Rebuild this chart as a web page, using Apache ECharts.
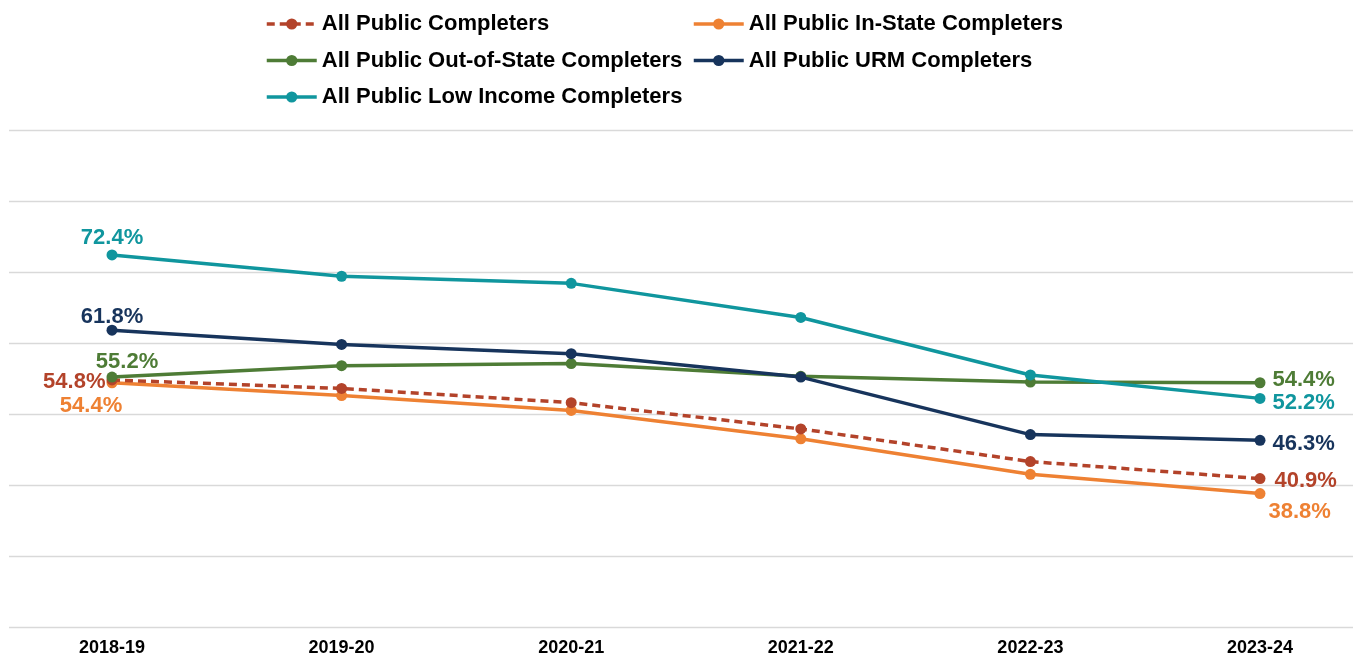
<!DOCTYPE html>
<html>
<head>
<meta charset="utf-8">
<script src="https://cdn.jsdelivr.net/npm/echarts@6/dist/echarts.min.js"></script>
<style>
html,body{margin:0;padding:0;background:#fff;}
#chart{width:1353px;height:659px;}
</style>
</head>
<body>
<div id="chart"></div>
<script>
const categories = ['2018-19', '2019-20', '2020-21', '2021-22', '2022-23', '2023-24'];
const seriesNames = [
  'All Public Completers',
  'All Public In-State Completers',
  'All Public Out-of-State Completers',
  'All Public URM Completers',
  'All Public Low Income Completers'
];
const allPublic = [54.8, 53.6, 51.6, 47.9, 43.3, 40.9];
const inState = [54.4, 52.6, 50.5, 46.5, 41.5, 38.8];
const outState = [55.2, 56.8, 57.1, 55.3, 54.5, 54.4];
const urm = [61.8, 59.8, 58.5, 55.2, 47.1, 46.3];
const lowIncome = [72.4, 69.4, 68.4, 63.6, 55.5, 52.2];
const yMin = 20, yMax = 90, yStep = 10;

const colors = ['#B3432A', '#EE8133', '#4E7C36', '#17345C', '#10969E'];
const FONT = 'Arial, "Liberation Sans", sans-serif';

// label placement styles for first / last points
const firstLabel = [
  {position: 'left', distance: 1, offset: [0, 2]},
  {position: 'bottom', distance: 7, offset: [-21, 0]},
  {position: 'top', distance: -1, offset: [15, 0]},
  {position: 'top', distance: -3, offset: [0, 0]},
  {position: 'top', distance: 1, offset: [0, 0]}
];
const lastLabel = [
  {position: 'right', distance: 9, offset: [0, 2]},
  {position: 'right', distance: 3, offset: [0, 18]},
  {position: 'right', distance: 7, offset: [0, -3]},
  {position: 'right', distance: 7, offset: [0, 4]},
  {position: 'right', distance: 7, offset: [0, 5]}
];

function buildData(values, idx) {
  return values.map((v, i) => {
    const item = {value: v};
    let cfg = null;
    if (i === 0) cfg = firstLabel[idx];
    if (i === values.length - 1) cfg = lastLabel[idx];
    if (cfg) {
      item.label = Object.assign({show: true}, cfg);
    }
    return item;
  });
}

const valueSets = [allPublic, inState, outState, urm, lowIncome];
const zOrder = [3, 2, 4, 5, 6];

const series = valueSets.map((vals, idx) => ({
  name: seriesNames[idx],
  type: 'line',
  xAxisIndex: 1,
  yAxisIndex: 1,
  data: buildData(vals, idx),
  symbol: 'circle',
  symbolSize: 11,
  z: zOrder[idx],
  lineStyle: {width: 3.5, color: colors[idx], type: idx === 0 ? [8, 5] : 'solid'},
  itemStyle: {color: colors[idx]},
  label: {
    show: false,
    formatter: (p) => Number(p.value).toFixed(1) + '%',
    color: colors[idx],
    fontSize: 22,
    fontWeight: 'bold',
    fontFamily: FONT
  },
  emphasis: {disabled: true},
  animation: false
}));

const legendText = {fontSize: 22, fontWeight: 'bold', color: '#000', fontFamily: FONT};
const legendCommon = {
  orient: 'vertical',
  top: 13,
  padding: 0,
  itemWidth: 50, itemHeight: 14, itemGap: 14.5,
  textStyle: legendText,
  lineStyle: {width: 3.5},
  selectedMode: false
};

const chart = echarts.init(document.getElementById('chart'), null, {renderer: 'canvas'});
chart.setOption({
  backgroundColor: '#fff',
  animation: false,
  legend: [
    Object.assign({data: [seriesNames[0], seriesNames[2], seriesNames[4]], left: 265}, legendCommon),
    Object.assign({data: [seriesNames[1], seriesNames[3]], left: 692}, legendCommon)
  ],
  grid: [
    {left: 9, right: 0, top: 130, bottom: 32, containLabel: false},
    {left: 112, right: 93, top: 130, bottom: 32, containLabel: false}
  ],
  xAxis: [
    {type: 'category', gridIndex: 0, data: categories, show: false},
    {
      type: 'category', gridIndex: 1, data: categories, boundaryGap: false,
      axisLine: {show: false}, axisTick: {show: false},
      axisLabel: {fontSize: 18, fontWeight: 'bold', color: '#000', fontFamily: FONT, margin: 12},
      splitLine: {show: false}
    }
  ],
  yAxis: [
    {
      type: 'value', gridIndex: 0, min: yMin, max: yMax, interval: yStep,
      axisLabel: {show: false}, axisLine: {show: false}, axisTick: {show: false},
      splitLine: {show: true, lineStyle: {color: '#D9D9D9', width: 1.3}}
    },
    {
      type: 'value', gridIndex: 1, min: yMin, max: yMax, interval: yStep,
      axisLabel: {show: false}, axisLine: {show: false}, axisTick: {show: false},
      splitLine: {show: false}
    }
  ],
  series: series
});
</script>
</body>
</html>
